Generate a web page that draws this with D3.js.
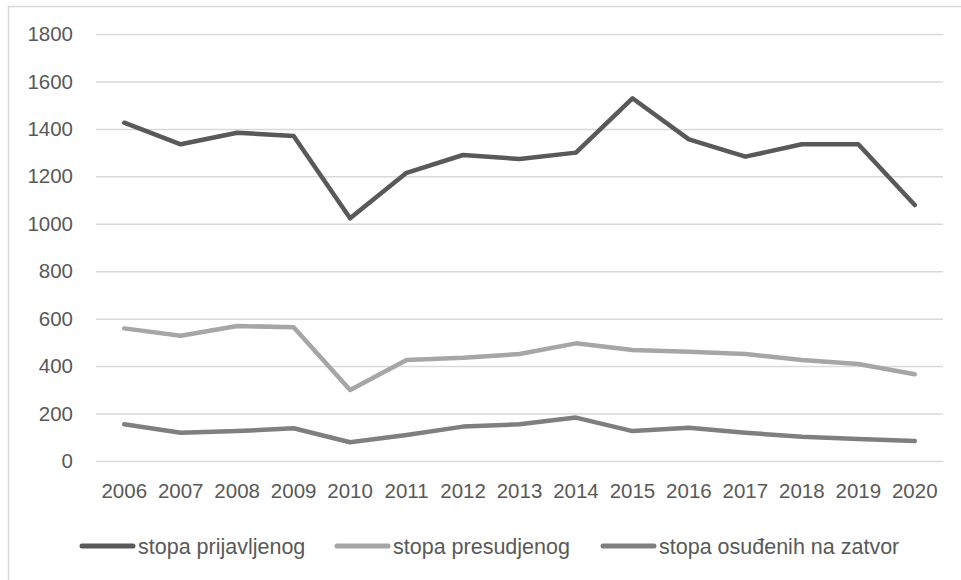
<!DOCTYPE html>
<html><head><meta charset="utf-8">
<script src="https://cdn.jsdelivr.net/npm/d3@7"></script>
<style>body{margin:0;background:#fff}svg{display:block}</style>
</head><body>
<script>
const years = ["2006","2007","2008","2009","2010","2011","2012","2013","2014","2015","2016","2017","2018","2019","2020"];
const prijavljenog = [1426,1335,1384,1370,1023,1215,1290,1273,1300,1529,1356,1283,1335,1335,1079];
const presudjenog = [559,528,569,564,299,426,435,451,496,468,461,451,426,409,366];
const osudjenih = [155,119,126,138,79,110,145,155,183,126,140,119,102,93,84];
const yTicks = [0,200,400,600,800,1000,1200,1400,1600,1800];
const seriesNames = ["stopa prijavljenog","stopa presudjenog","stopa osuđenih na zatvor"];
const seriesColors = ["#595959","#a6a6a6","#7f7f7f"];

const W=961,H=580;
const svg=d3.select("body").append("svg").attr("width",W).attr("height",H);
const font="'Liberation Sans', Arial, sans-serif";

// outer frame (top and left edges visible)
svg.append("path").attr("d",`M8.5,${H} V6.5 H${W}`).attr("fill","none").attr("stroke","#d9d9d9").attr("stroke-width",1.5);

const x=d3.scaleBand().domain(years).range([96,943]);
const y=d3.scaleLinear().domain([0,1800]).range([461,34]);

const gy=svg.append("g").attr("transform","translate(96,0)")
  .call(d3.axisLeft(y).tickValues(yTicks).tickSize(-(943-96)).tickPadding(23).tickFormat(d3.format("d")));
gy.select(".domain").remove();
gy.selectAll(".tick line").attr("stroke","#d9d9d9").attr("stroke-width",1.5);
gy.selectAll(".tick text").attr("fill","#595959").style("font-family",font).style("font-size","20.5px");

const gx=svg.append("g").attr("transform","translate(0,461)")
  .call(d3.axisBottom(x).tickSize(0).tickPadding(22));
gx.select(".domain").remove();
gx.selectAll(".tick text").attr("fill","#595959").style("font-family",font).style("font-size","20.5px");

const line=d3.line().x((d,i)=>x(years[i])+x.bandwidth()/2).y(d=>y(d));
[prijavljenog,presudjenog,osudjenih].forEach((s,i)=>{
  svg.append("path").datum(s).attr("d",line).attr("fill","none")
    .attr("stroke",seriesColors[i]).attr("stroke-width",4.5).attr("stroke-linejoin","round").attr("stroke-linecap","round");
});

// legend
const legX=[82,337,603];
seriesNames.forEach((n,i)=>{
  const g=svg.append("g").attr("transform",`translate(${legX[i]},546)`);
  g.append("line").attr("x1",0).attr("x2",51).attr("stroke",seriesColors[i]).attr("stroke-width",5).attr("stroke-linecap","round");
  g.append("text").attr("x",56).attr("dy","0.35em").text(n).attr("fill","#595959")
    .style("font-family",font).style("font-size","21.5px");
});
</script>
</body></html>
